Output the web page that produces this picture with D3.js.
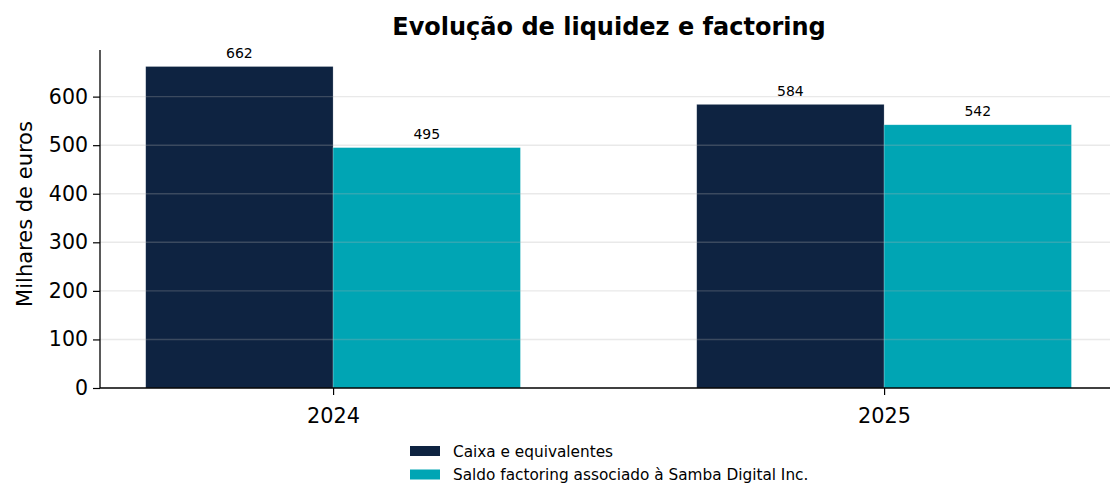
<!DOCTYPE html>
<html><head><meta charset="utf-8">
<script src="https://cdn.jsdelivr.net/npm/d3@7"></script>
<style>body{margin:0;background:#fff}svg{display:block;font-family:"DejaVu Sans",sans-serif}</style>
</head><body>
<svg id="c" width="1110" height="484"></svg>
<script>
const years = ["2024", "2025"];
const seriesNames = ["Caixa e equivalentes", "Saldo factoring associado à Samba Digital Inc."];
const caixa = [662, 584];
const factoring = [495, 542];
const yTicks = [0, 100, 200, 300, 400, 500, 600];
const colors = ["#0e2341", "#00a5b4"];

const svg = d3.select("#c");
const mLeft = 100, mRight = 1110, mTop = 50, mBottom = 388;
const x = d3.scaleLinear().domain([-0.423, 1.41]).range([mLeft, mRight]);
const y = d3.scaleLinear().domain([0, 696]).range([mBottom, mTop]);
const bw = 0.34;
const series = [caixa, factoring];

// bars
series.forEach((vals, si) => {
  svg.append("g").selectAll("rect").data(vals).join("rect")
    .attr("x", (d, i) => x(i + (si === 0 ? -bw : 0)))
    .attr("width", x(bw) - x(0))
    .attr("y", d => y(d))
    .attr("height", d => y(0) - y(d))
    .attr("fill", colors[si])
    .attr("stroke", "rgba(255,255,255,0.35)").attr("stroke-width", 0.6);
  svg.append("g").selectAll("text").data(vals).join("text")
    .attr("x", (d, i) => x(i + (si === 0 ? -bw / 2 : bw / 2)))
    .attr("y", d => y(d) - 8.5)
    .attr("text-anchor", "middle").attr("font-size", 14).attr("fill", "#000")
    .text(d => d);
});

// grid on top
svg.append("g").selectAll("line").data(yTicks.filter(t => t > 0)).join("line")
  .attr("x1", mLeft).attr("x2", mRight)
  .attr("y1", d => y(d)).attr("y2", d => y(d))
  .attr("stroke", "#b0b0b0").attr("stroke-opacity", 0.28).attr("stroke-width", 1.4);

// y axis
const ya = svg.append("g").attr("transform", `translate(${mLeft},0)`)
  .call(d3.axisLeft(y).tickValues(yTicks).tickSize(7).tickPadding(5).tickSizeOuter(0));
ya.select(".domain").attr("stroke", "#000").attr("stroke-width", 1.3).attr("d", `M0,${mBottom}V${mTop}`);
ya.selectAll(".tick line").attr("stroke", "#000").attr("stroke-width", 1.2);
ya.selectAll("text").attr("font-size", 20.5).attr("font-family", "DejaVu Sans").attr("fill", "#000");

// x axis
const xa = svg.append("g").attr("transform", `translate(0,${mBottom})`)
  .call(d3.axisBottom(x).tickValues([0, 1]).tickFormat((d, i) => years[i]).tickSize(7).tickPadding(13).tickSizeOuter(0));
xa.select(".domain").attr("d", `M${mLeft},0H${mRight}`).attr("stroke", "#000").attr("stroke-width", 1.3);
xa.selectAll(".tick line").attr("stroke", "#000").attr("stroke-width", 1.2);
xa.selectAll("text").attr("font-size", 20.8).attr("font-family", "DejaVu Sans").attr("fill", "#000");

// title
svg.append("text").attr("x", 609).attr("y", 35).attr("text-anchor", "middle")
  .attr("font-size", 24).attr("font-weight", "bold").text("Evolução de liquidez e factoring");

// y label
svg.append("text").attr("transform", "translate(32,214) rotate(-90)").attr("text-anchor", "middle")
  .attr("font-size", 21).text("Milhares de euros");

// legend
const lg = svg.append("g");
seriesNames.forEach((n, i) => {
  lg.append("rect").attr("x", 410).attr("y", 446 + i * 23.5).attr("width", 30).attr("height", 10).attr("fill", colors[i]);
  lg.append("text").attr("x", 453).attr("y", 456.5 + i * 23.5).attr("font-size", 15.3).text(n);
});
</script>
</body></html>
